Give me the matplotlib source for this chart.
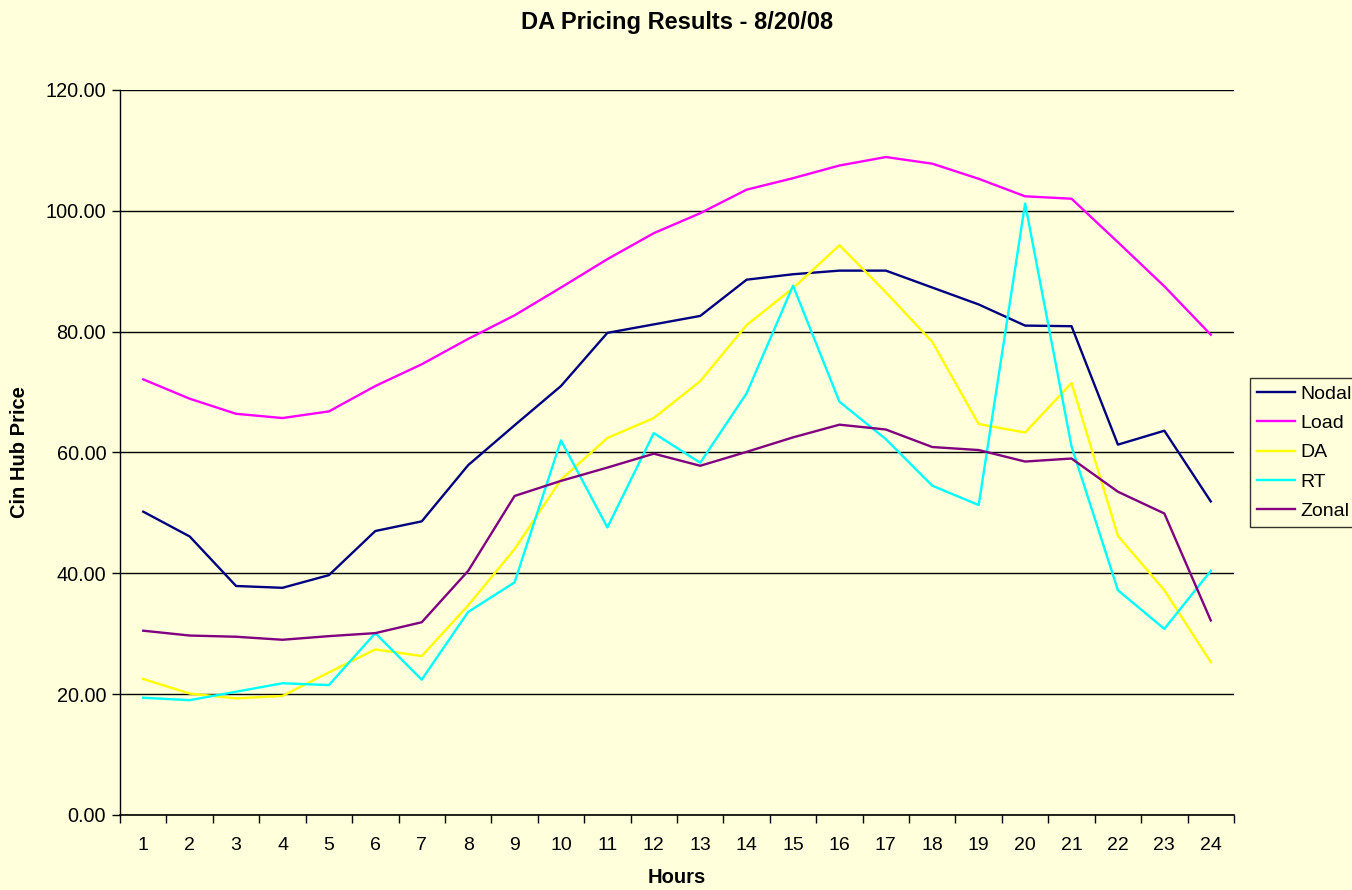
import numpy as np
import matplotlib
matplotlib.use("Agg")
import matplotlib.pyplot as plt
from matplotlib.ticker import FixedLocator, NullFormatter, FixedFormatter

plt.rcParams['font.family'] = ['Liberation Sans', 'DejaVu Sans']

# %% data
hours = list(range(1, 25))
nodal = [50.2, 46.1, 37.9, 37.6, 39.7, 47.0, 48.6, 57.9, 64.5, 71.0, 79.8, 81.2,
         82.6, 88.6, 89.5, 90.1, 90.1, 87.3, 84.5, 81.0, 80.9, 61.3, 63.6, 51.9]
load = [72.1, 68.9, 66.4, 65.7, 66.8, 71.0, 74.6, 78.8, 82.7, 87.3, 92.0, 96.3,
        99.6, 103.5, 105.4, 107.5, 108.9, 107.8, 105.3, 102.4, 102.0, 94.8, 87.5, 79.5]
da = [22.5, 20.1, 19.3, 19.7, 23.6, 27.4, 26.3, 34.7, 44.0, 55.5, 62.4, 65.7,
      71.8, 81.1, 87.2, 94.3, 86.5, 78.3, 64.7, 63.3, 71.5, 46.2, 37.2, 25.3]
rt = [19.4, 19.0, 20.4, 21.8, 21.5, 30.1, 22.4, 33.6, 38.5, 62.0, 47.6, 63.2,
      58.3, 69.8, 87.6, 68.4, 62.2, 54.5, 51.3, 101.2, 61.0, 37.2, 30.8, 40.4]
zonal = [30.5, 29.7, 29.5, 29.0, 29.6, 30.1, 31.9, 40.4, 52.8, 55.3, 57.5, 59.8,
         57.8, 60.1, 62.5, 64.6, 63.8, 60.9, 60.4, 58.5, 59.0, 53.5, 49.9, 32.2]

series = [("Nodal", nodal, "#000080"),
          ("Load", load, "#FF00FF"),
          ("DA", da, "#FFFF00"),
          ("RT", rt, "#00FFFF"),
          ("Zonal", zonal, "#800080")]

BG = "#FFFFDC"

# %%
fig = plt.figure(figsize=(13.52, 8.90), dpi=100, facecolor=BG)
ax = fig.add_axes([0.0888, 0.0843, 0.8239, 0.8146], facecolor=BG)

for name, vals, col in series:
    ax.plot(hours, vals, color=col, lw=1.7, label=name)

ax.set_xlim(0.5, 24.5)
ax.set_ylim(0, 120)

ax.xaxis.set_major_locator(FixedLocator(np.arange(0.5, 25, 1)))
ax.xaxis.set_major_formatter(NullFormatter())
ax.xaxis.set_minor_locator(FixedLocator(hours))
ax.xaxis.set_minor_formatter(FixedFormatter([str(h) for h in hours]))
ax.tick_params(axis='x', which='major', length=6, width=1, direction='out')
ax.tick_params(axis='x', which='minor', length=0, pad=16, labelsize=14)

ax.set_yticks(np.arange(0, 121, 20))
ax.set_yticklabels([f"{v:.2f}" for v in np.arange(0, 121, 20)])
ax.tick_params(axis='y', length=6, width=1, direction='out', labelsize=14.3, pad=4)
ax.yaxis.grid(True, color='black', lw=1)
ax.set_axisbelow(True)

for side in ['top', 'right']:
    ax.spines[side].set_visible(False)
ax.spines['left'].set_linewidth(1)
ax.spines['bottom'].set_linewidth(1.2)

ax.set_title("DA Pricing Results - 8/20/08", fontsize=17, fontweight='bold', pad=44)
ax.set_xlabel("Hours", fontsize=14.5, fontweight='bold', labelpad=10)
ax.set_ylabel("Cin Hub Price", fontsize=14.5, fontweight='bold', labelpad=12)

leg = ax.legend(loc='upper left', bbox_to_anchor=(1.0144, 0.603), fontsize=14,
                frameon=True, fancybox=False, borderaxespad=0, handlelength=1.95,
                handletextpad=0.25, labelspacing=0.6, borderpad=0.38)
leg.get_frame().set_edgecolor('black')
leg.get_frame().set_facecolor(BG)
leg.get_frame().set_linewidth(1)

fig.savefig("out.png", dpi=100, facecolor=BG)
